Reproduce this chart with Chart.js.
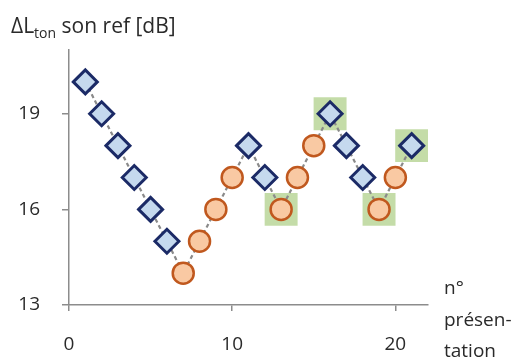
<!DOCTYPE html>
<html>
<head>
<meta charset="utf-8">
<script src="https://cdn.jsdelivr.net/npm/chart.js@4.4.1/dist/chart.umd.min.js"></script>
<style>
  html, body { margin: 0; padding: 0; background: #fff; }
  #wrap { width: 529px; height: 360px; }
</style>
</head>
<body>
<div id="wrap"><canvas id="chart"></canvas></div>
<script>
// presentation number and level difference (dB)
const presentations = [1, 2, 3, 4, 5, 6, 7, 8, 9, 10, 11, 12, 13, 14, 15, 16, 17, 18, 19, 20, 21];
const levels = [20, 19, 18, 17, 16, 15, 14, 15, 16, 17, 18, 17, 16, 17, 18, 19, 18, 17, 16, 17, 18];
// 'd' = diamond (descending), 'c' = circle (ascending)
const markers = ['d', 'd', 'd', 'd', 'd', 'd', 'c', 'c', 'c', 'c', 'd', 'd', 'c', 'c', 'c', 'd', 'd', 'd', 'c', 'c', 'd'];
// reversal points highlighted with a green square
const reversals = [13, 16, 19, 21];

const xTicks = [0, 10, 20];
const yTicks = [13, 16, 19];

const FONT = '"Open Sans", "DejaVu Sans", sans-serif';
const TEXT = '#2a2a2a';
const AXIS = '#8c8c8c';

const allPts = presentations.map((x, i) => ({ x, y: levels[i] }));
const diamondPts = allPts.filter((p, i) => markers[i] === 'd');
const circlePts = allPts.filter((p, i) => markers[i] === 'c');
const squarePts = allPts.filter((p) => reversals.includes(p.x));

// titles drawn as text on the canvas
const labelsPlugin = {
  id: 'labels',
  afterDraw(chart) {
    const ctx = chart.ctx;
    ctx.save();
    ctx.fillStyle = TEXT;
    ctx.textBaseline = 'alphabetic';
    ctx.textAlign = 'left';
    // y axis title with subscript
    let x = 11;
    ctx.font = '21px ' + FONT;
    ctx.fillText('ΔL', x, 33);
    x += ctx.measureText('ΔL').width;
    ctx.font = '14px ' + FONT;
    ctx.fillText('ton', x, 38);
    x += ctx.measureText('ton').width;
    ctx.font = '21px ' + FONT;
    ctx.fillText(' son ref [dB]', x, 33);
    // x axis title
    ctx.font = '19px ' + FONT;
    ctx.fillText('n°', 444, 294);
    ctx.fillText('présen-', 444, 326);
    ctx.fillText('tation', 444, 357);
    ctx.restore();
  },
};

new Chart(document.getElementById('chart').getContext('2d'), {
  type: 'line',
  data: {
    datasets: [
      {
        data: squarePts,
        order: 4,
        showLine: false,
        pointStyle: 'rect',
        pointRadius: 23.3,
        pointBackgroundColor: '#c4dca8',
        pointBorderWidth: 0,
        pointBorderColor: '#c4dca8',
      },
      {
        data: allPts,
        order: 3,
        borderColor: '#8a8a8a',
        borderWidth: 2.2,
        borderDash: [4, 3],
        pointRadius: 0,
        fill: false,
        tension: 0,
      },
      {
        data: diamondPts,
        order: 2,
        showLine: false,
        pointStyle: 'rectRot',
        pointRadius: 12,
        pointBackgroundColor: '#c5d9ee',
        pointBorderColor: '#1b2a66',
        pointBorderWidth: 3,
      },
      {
        data: circlePts,
        order: 1,
        showLine: false,
        pointStyle: 'circle',
        pointRadius: 10.5,
        pointBackgroundColor: '#f9c9a3',
        pointBorderColor: '#c0581e',
        pointBorderWidth: 2.5,
      },
    ],
  },
  options: {
    responsive: true,
    maintainAspectRatio: false,
    animation: false,
    layout: { padding: { left: 0, right: 101, top: 50, bottom: 0 } },
    plugins: {
      legend: { display: false },
      tooltip: { enabled: false },
      title: { display: false },
    },
    scales: {
      x: {
        type: 'linear',
        min: 0,
        max: 22,
        afterBuildTicks: (scale) => { scale.ticks = xTicks.map((v) => ({ value: v })); },
        afterFit: (scale) => { scale.height = 55; },
        ticks: { font: { family: FONT, size: 19 }, color: TEXT, padding: 22, maxRotation: 0 },
        grid: { drawOnChartArea: false, drawTicks: true, tickLength: 6, color: AXIS, lineWidth: 1.5 },
        border: { color: AXIS, width: 1.5 },
      },
      y: {
        type: 'linear',
        min: 13,
        max: 21,
        afterBuildTicks: (scale) => { scale.ticks = yTicks.map((v) => ({ value: v })); },
        afterFit: (scale) => { scale.width = 69; },
        ticks: { font: { family: FONT, size: 19 }, color: TEXT, padding: 22 },
        grid: { drawOnChartArea: false, drawTicks: true, tickLength: 7, color: AXIS, lineWidth: 1.5 },
        border: { color: AXIS, width: 1.5 },
      },
    },
  },
  plugins: [labelsPlugin],
});
</script>
</body>
</html>
